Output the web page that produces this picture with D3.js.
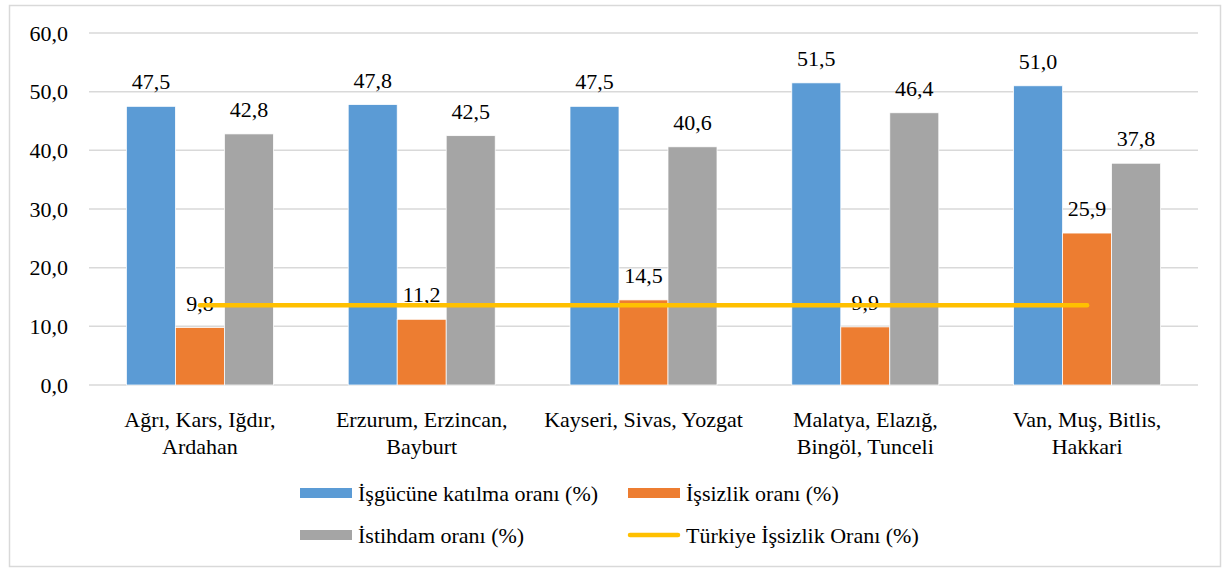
<!DOCTYPE html>
<html>
<head>
<meta charset="utf-8">
<script src="https://cdn.jsdelivr.net/npm/d3@7"></script>
<style>
  body { margin: 0; background: #fff; }
</style>
</head>
<body>
<div id="chart"></div>
<script>
// Data
var categories = [
    ["Ağrı, Kars, Iğdır,", "Ardahan"],
    ["Erzurum, Erzincan,", "Bayburt"],
    ["Kayseri, Sivas, Yozgat"],
    ["Malatya, Elazığ,", "Bingöl, Tunceli"],
    ["Van, Muş, Bitlis,", "Hakkari"]
];
var seriesNames = ["İşgücüne katılma oranı (%)", "İşsizlik oranı (%)", "İstihdam oranı (%)"];
var katilma = [47.5, 47.8, 47.5, 51.5, 51.0];
var issizlik = [9.8, 11.2, 14.5, 9.9, 25.9];
var istihdam = [42.8, 42.5, 40.6, 46.4, 37.8];
var turkiye = [13.6, 13.6, 13.6, 13.6, 13.6];
var lineName = "Türkiye İşsizlik Oranı (%)";
var yTicks = [0, 10, 20, 30, 40, 50, 60];

var colors = ["#5B9BD5", "#ED7D31", "#A5A5A5"],
    lineColor = "#FFC000";
var FONT = "Liberation Serif, LiberationSerif, DejaVu Serif, serif";

var W = 1231, H = 568;
var margin = {top: 33, right: 33, bottom: 183, left: 89},
    width = W - margin.left - margin.right,
    height = H - margin.top - margin.bottom;

var fmt = function(v) { return d3.format(".1f")(v).replace(".", ","); };

var svg = d3.select("#chart").append("svg")
    .attr("width", W)
    .attr("height", H)
    .attr("font-family", FONT)
    .attr("font-size", 22);

// outer border
svg.append("rect")
    .attr("x", 9.5).attr("y", 5.5)
    .attr("width", 1211).attr("height", 561)
    .attr("fill", "none")
    .attr("stroke", "#d9d9d9")
    .attr("stroke-width", 1.5);

var g = svg.append("g")
    .attr("transform", "translate(" + margin.left + "," + margin.top + ")");

var idx = d3.range(categories.length);
var x0 = d3.scaleBand().domain(idx).range([0, width]).paddingInner(0).paddingOuter(0);
var barW = 49;
var x1 = d3.scaleBand().domain([0, 1, 2])
    .range([(x0.bandwidth() - 3 * barW) / 2, (x0.bandwidth() + 3 * barW) / 2]);
var y = d3.scaleLinear().domain([0, 60]).range([height, 0]);

// grid
g.selectAll(".grid").data(yTicks).enter().append("line")
    .attr("x1", 0).attr("x2", width)
    .attr("y1", function(d) { return y(d); })
    .attr("y2", function(d) { return y(d); })
    .attr("stroke", "#d9d9d9")
    .attr("stroke-width", 1.5);

// y tick labels
g.selectAll(".ytick").data(yTicks).enter().append("text")
    .attr("x", -21)
    .attr("y", function(d) { return y(d); })
    .attr("dy", "0.35em")
    .attr("text-anchor", "end")
    .text(fmt);

// bars
var series = [katilma, issizlik, istihdam];
var groups = g.selectAll(".grp").data(idx).enter().append("g")
    .attr("transform", function(i) { return "translate(" + x0(i) + ",0)"; });

groups.selectAll("rect").data(function(i) {
        return series.map(function(s, k) { return {k: k, v: s[i]}; });
    })
    .enter().append("rect")
    .attr("x", function(d) { return x1(d.k); })
    .attr("width", x1.bandwidth())
    .attr("y", function(d) { return y(d.v); })
    .attr("height", function(d) { return height - y(d.v); })
    .attr("fill", function(d) { return colors[d.k]; })
    .attr("stroke", "#fff")
    .attr("stroke-width", 0.75);

// Türkiye line (through orange bar centres)
var line = d3.line()
    .x(function(d, i) { return x0(i) + x1(1) + x1.bandwidth() / 2; })
    .y(function(d) { return y(d); });
g.append("path")
    .datum(turkiye)
    .attr("d", line)
    .attr("fill", "none")
    .attr("stroke", lineColor)
    .attr("stroke-width", 4.5)
    .attr("stroke-linecap", "round");

// value labels
groups.selectAll(".lbl").data(function(i) {
        return series.map(function(s, k) { return {k: k, v: s[i]}; });
    })
    .enter().append("text")
    .attr("x", function(d) { return x1(d.k) + x1.bandwidth() / 2; })
    .attr("y", function(d) { return y(d.v) - 17; })
    .attr("text-anchor", "middle")
    .text(function(d) { return fmt(d.v); });

// category labels
groups.append("text")
    .attr("x", x0.bandwidth() / 2)
    .attr("y", height + 42)
    .attr("text-anchor", "middle")
    .selectAll("tspan")
    .data(function(i) { return categories[i]; })
    .enter().append("tspan")
    .attr("x", x0.bandwidth() / 2)
    .attr("dy", function(d, j) { return j === 0 ? 0 : 27; })
    .text(function(d) { return d; });

// legend
var legend = [
    {name: seriesNames[0], type: "rect", color: colors[0], x: 300, y: 493},
    {name: seriesNames[1], type: "rect", color: colors[1], x: 628, y: 493},
    {name: seriesNames[2], type: "rect", color: colors[2], x: 300, y: 535},
    {name: lineName, type: "line", color: lineColor, x: 628, y: 535}
];
var lg = svg.selectAll(".leg").data(legend).enter().append("g")
    .attr("transform", function(d) { return "translate(" + d.x + "," + d.y + ")"; });
lg.filter(function(d) { return d.type === "rect"; }).append("rect")
    .attr("x", 0).attr("y", -5)
    .attr("width", 52).attr("height", 10)
    .attr("fill", function(d) { return d.color; });
lg.filter(function(d) { return d.type === "line"; }).append("line")
    .attr("x1", 2).attr("x2", 50)
    .attr("y1", 0).attr("y2", 0)
    .attr("stroke", function(d) { return d.color; })
    .attr("stroke-width", 4.5)
    .attr("stroke-linecap", "round");
lg.append("text")
    .attr("x", 58)
    .attr("dy", "0.35em")
    .text(function(d) { return d.name; });
</script>
</body>
</html>
